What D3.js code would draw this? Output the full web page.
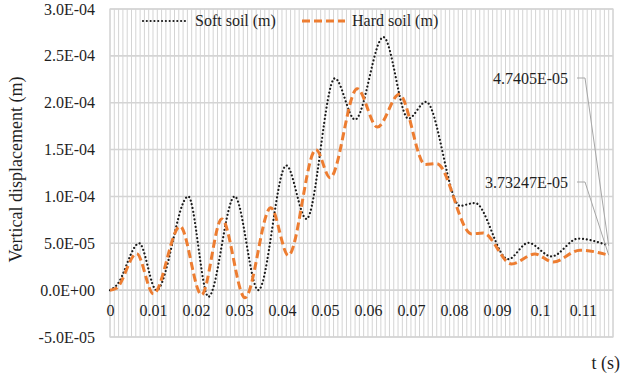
<!DOCTYPE html>
<html>
<head>
<meta charset="utf-8">
<script src="https://cdn.jsdelivr.net/npm/d3@7/dist/d3.min.js"></script>
</head>
<body style="margin:0;background:#fff">
<svg id="chart" width="622" height="377" style="display:block"></svg>
<script>
// ---- Data ----
const softTime = [0, 0.0015, 0.0068, 0.0108, 0.0182, 0.0229, 0.029, 0.0345, 0.041, 0.0457, 0.0523, 0.057, 0.0636, 0.0694, 0.0735, 0.0814, 0.0849, 0.0926, 0.0973, 0.1027, 0.1089, 0.116];
const softValue = [0, 0.5e-5, 5.0e-5, 0.0e-5, 10.0e-5, -0.7e-5, 10.0e-5, 0.0e-5, 13.3e-5, 7.6e-5, 22.6e-5, 18.2e-5, 27.0e-5, 18.3e-5, 20.1e-5, 9.0e-5, 9.3e-5, 3.3e-5, 5.05e-5, 3.6e-5, 5.5e-5, 4.7405e-5];

const hardTime = [0, 0.0015, 0.0062, 0.0101, 0.0163, 0.0213, 0.026, 0.0314, 0.0374, 0.0415, 0.0479, 0.0512, 0.0575, 0.0622, 0.0673, 0.0733, 0.076, 0.0841, 0.0868, 0.0934, 0.0988, 0.1031, 0.1093, 0.116];
const hardValue = [0, 0.2e-5, 3.9e-5, -0.4e-5, 6.8e-5, -0.5e-5, 7.6e-5, -0.8e-5, 8.8e-5, 3.7e-5, 15.0e-5, 12.0e-5, 21.5e-5, 17.4e-5, 20.9e-5, 13.4e-5, 13.5e-5, 6.0e-5, 6.1e-5, 2.8e-5, 3.85e-5, 3.0e-5, 4.27e-5, 3.73247e-5];

const seriesNames = ["Soft soil (m)", "Hard soil (m)"];
const yTickValues = [-5e-5, 0, 5e-5, 1e-4, 1.5e-4, 2e-4, 2.5e-4, 3e-4];
const yTickLabels = ["-5.0E-05", "0.0E+00", "5.0E-05", "1.0E-04", "1.5E-04", "2.0E-04", "2.5E-04", "3.0E-04"];
const xTickValues = [0, 0.01, 0.02, 0.03, 0.04, 0.05, 0.06, 0.07, 0.08, 0.09, 0.1, 0.11];
const xTickLabels = ["0", "0.01", "0.02", "0.03", "0.04", "0.05", "0.06", "0.07", "0.08", "0.09", "0.1", "0.11"];
const endLabels = ["4.7405E-05", "3.73247E-05"];

// ---- Layout ----
const FONT = '"Liberation Serif"';
const TXT = "#1f1f1f";
const svg = d3.select("#chart");
const pL = 110, pR = 613, pT = 9, pB = 337;
const x = d3.scaleLinear().domain([0, 0.117]).range([pL, pR]);
const y = d3.scaleLinear().domain([-5e-5, 3e-4]).range([pB, pT]);

// vertical grid (every 0.001 s)
const vgrid = d3.range(0, 118).map(i => i / 1000);
svg.append("g").selectAll("line").data(vgrid).join("line")
  .attr("x1", d => x(d)).attr("x2", d => x(d))
  .attr("y1", pT).attr("y2", pB)
  .attr("stroke", "#d4d4d4").attr("stroke-width", 1);

// horizontal grid
svg.append("g").selectAll("line").data(yTickValues).join("line")
  .attr("x1", pL).attr("x2", pR)
  .attr("y1", d => y(d)).attr("y2", d => y(d))
  .attr("stroke", "#d4d4d4").attr("stroke-width", 1.6);

// plot border
svg.append("rect").attr("x", pL).attr("y", pT)
  .attr("width", pR - pL).attr("height", pB - pT)
  .attr("fill", "none").attr("stroke", "#d4d4d4").attr("stroke-width", 1.2);

// y axis labels
const yAxis = d3.axisLeft(y).tickValues(yTickValues)
  .tickFormat((d, i) => yTickLabels[i]).tickSize(0).tickPadding(0);
const yg = svg.append("g").attr("transform", `translate(${pL - 15},0)`).call(yAxis);
yg.attr("font-family", null).attr("font-size", null);
yg.select(".domain").remove();
yg.selectAll("text").style("font-family", FONT).style("font-size", "16px").attr("fill", TXT);

// x axis labels (placed below the zero line)
const xAxis = d3.axisBottom(x).tickValues(xTickValues)
  .tickFormat((d, i) => xTickLabels[i]).tickSize(0).tickPadding(0);
const xg = svg.append("g").attr("transform", `translate(0,${y(0) + 14})`).call(xAxis);
xg.attr("font-family", null).attr("font-size", null);
xg.select(".domain").remove();
xg.selectAll("text").style("font-family", FONT).style("font-size", "16px").attr("fill", TXT);

// lines
const soft = softTime.map((t, i) => [t, softValue[i]]);
const hard = hardTime.map((t, i) => [t, hardValue[i]]);
const line = d3.line().x(d => x(d[0])).y(d => y(d[1])).curve(d3.curveMonotoneX);

svg.append("path").attr("d", line(soft))
  .attr("fill", "none").attr("stroke", "#1a1a1a").attr("stroke-width", 2.2)
  .attr("stroke-linecap", "round").attr("stroke-dasharray", "0.01 3.8");

svg.append("path").attr("d", line(hard))
  .attr("fill", "none").attr("stroke", "#ED7D31").attr("stroke-width", 3)
  .attr("stroke-dasharray", "8 4");

// end labels with leader lines
const endPts = [soft[soft.length - 1], hard[hard.length - 1]];
const labelY = [79, 183];
endPts.forEach((p, i) => {
  svg.append("polyline")
    .attr("points", `${577},${labelY[i] - 1} ${585},${labelY[i] - 1} ${x(p[0])},${y(p[1])}`)
    .attr("fill", "none").attr("stroke", "#a6a6a6").attr("stroke-width", 1);
  svg.append("text").attr("x", 568).attr("y", labelY[i] + 5)
    .attr("text-anchor", "end").attr("fill", TXT)
    .style("font-family", FONT).style("font-size", "16px").text(endLabels[i]);
});

// legend
const lg = svg.append("g");
lg.append("line").attr("x1", 143).attr("x2", 187).attr("y1", 21).attr("y2", 21)
  .attr("stroke", "#1a1a1a").attr("stroke-width", 2.2)
  .attr("stroke-linecap", "round").attr("stroke-dasharray", "0.01 3.8");
lg.append("text").attr("x", 195).attr("y", 26).attr("fill", TXT)
  .style("font-family", FONT).style("font-size", "16px").text(seriesNames[0]);
lg.append("line").attr("x1", 302).attr("x2", 345).attr("y1", 21).attr("y2", 21)
  .attr("stroke", "#ED7D31").attr("stroke-width", 3).attr("stroke-dasharray", "8 4");
lg.append("text").attr("x", 352).attr("y", 26).attr("fill", TXT)
  .style("font-family", FONT).style("font-size", "16px").text(seriesNames[1]);

// axis titles
svg.append("text").attr("transform", `translate(22,${(pT + 290) / 2 + 20}) rotate(-90)`)
  .attr("text-anchor", "middle").attr("fill", TXT)
  .style("font-family", FONT).style("font-size", "18px").text("Vertical displacement (m)");
svg.append("text").attr("x", 620).attr("y", 369).attr("text-anchor", "end").attr("fill", TXT)
  .style("font-family", FONT).style("font-size", "18px").text("t (s)");
</script>
</body>
</html>
